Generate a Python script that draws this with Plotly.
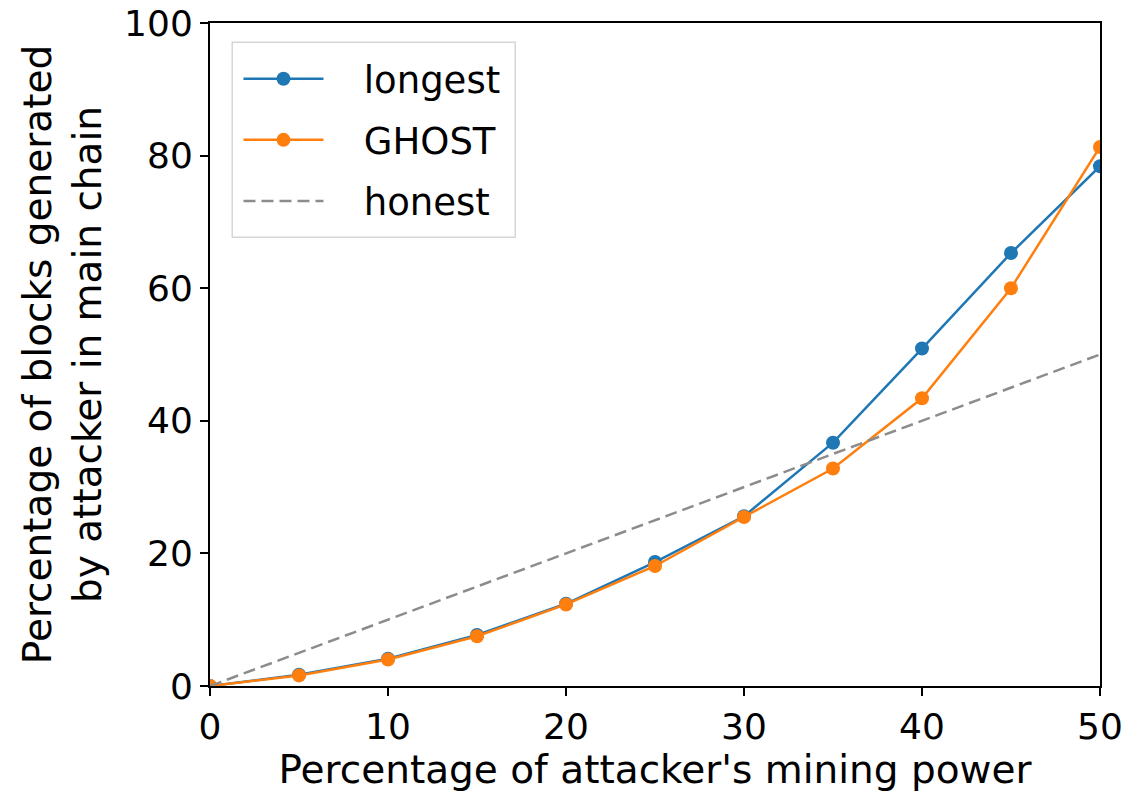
import plotly.graph_objects as go

power = [0, 5, 10, 15, 20, 25, 30, 35, 40, 45, 50]
longest = [0, 1.7, 4.1, 7.7, 12.4, 18.7, 25.6, 36.7, 50.9, 65.3, 78.4]
ghost = [0, 1.6, 4.0, 7.5, 12.3, 18.1, 25.5, 32.8, 43.4, 60.0, 81.3]
honest = [0, 5, 10, 15, 20, 25, 30, 35, 40, 45, 50]

FONT = "DejaVu Sans"
NB = "\u00a0"

fig = go.Figure()
fig.add_trace(go.Scatter(x=power, y=longest, name=NB * 3 + "longest", mode="lines+markers",
                         legendgroup="a",
                         line=dict(color="#1f77b4", width=2.5),
                         marker=dict(size=14, color="#1f77b4")))
fig.add_trace(go.Scatter(x=power, y=ghost, name=NB * 3 + "GHOST", mode="lines+markers",
                         legendgroup="b",
                         line=dict(color="#ff7f0e", width=2.5),
                         marker=dict(size=14, color="#ff7f0e")))
fig.add_trace(go.Scatter(x=power, y=honest, name=NB * 3 + "honest", mode="lines",
                         legendgroup="c",
                         line=dict(color="#8c8c8c", width=2.5, dash="12px,6px")))

axis_common = dict(showline=True, linecolor="black", linewidth=2, mirror=True,
                   ticks="outside", ticklen=8, tickwidth=2, tickcolor="black",
                   showgrid=False, zeroline=False, automargin=False,
                   tickfont=dict(family=FONT, size=36, color="black"))

# legend frame (rounded, matplotlib-like)
x0, x1, y0, y1 = 0.025, 0.343, 0.677, 0.971
fig.add_shape(type="rect", xref="paper", yref="paper", x0=x0, x1=x1, y0=y0, y1=y1,
              line=dict(color="#d6d6d6", width=1.5), fillcolor="rgba(255,255,255,0.85)",
              layer="above")

fig.update_layout(
    width=1128, height=797,
    margin=dict(l=210, r=28, t=23, b=111, autoexpand=False),
    paper_bgcolor="white", plot_bgcolor="white",
    font=dict(family=FONT, color="black"),
    showlegend=True,
    legend=dict(x=0.032, y=0.962, xanchor="left", yanchor="top",
                bgcolor="rgba(0,0,0,0)", borderwidth=0,
                font=dict(family=FONT, size=37, color="black"),
                itemwidth=80, tracegroupgap=10),
    xaxis=dict(range=[0, 50], tickvals=[0, 10, 20, 30, 40, 50],
               title=dict(text="Percentage of attacker's mining power",
                          font=dict(family=FONT, size=39), standoff=4),
               **axis_common),
    yaxis=dict(range=[0, 100], tickvals=[0, 20, 40, 60, 80, 100],
               title=dict(text="Percentage of blocks generated<br>by attacker in main chain",
                          font=dict(family=FONT, size=39), standoff=10),
               **axis_common),
)

fig.write_html("out.html")
